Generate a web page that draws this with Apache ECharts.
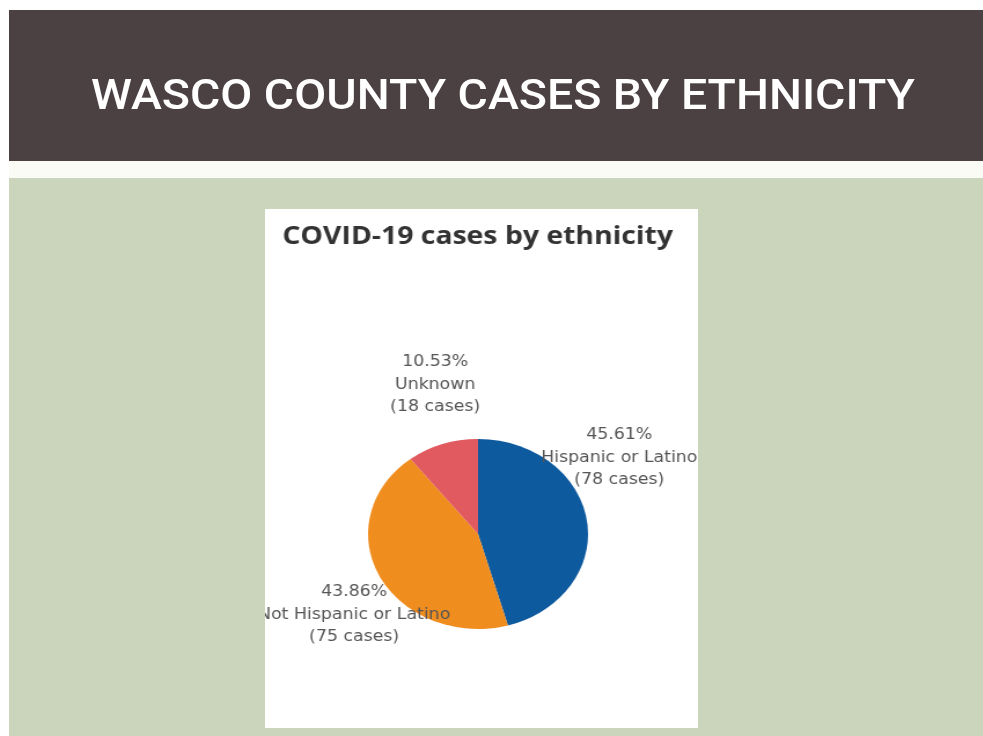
<!DOCTYPE html>
<html>
<head>
<meta charset="utf-8">
<script src="https://cdn.jsdelivr.net/npm/echarts@6/dist/echarts.min.js"></script>
<style>
html,body{margin:0;padding:0;background:#ffffff;}
#main{position:absolute;left:0;top:0;width:983px;height:736px;}
#wrap{position:absolute;left:265px;top:209px;width:433px;height:519px;overflow:hidden;background:#fff;}
#pie{position:absolute;left:0;top:0;width:374px;height:519px;transform:scaleX(1.1578);transform-origin:0 0;}
</style>
</head>
<body>
<div id="main"></div>
<div id="wrap"><div id="pie"></div></div>
<script>
// Data
const slideTitle = 'WASCO COUNTY CASES BY ETHNICITY';
const chartTitle = 'COVID-19 cases by ethnicity';
const categories = ['Hispanic or Latino', 'Not Hispanic or Latino', 'Unknown'];
const cases = [78, 75, 18];
const colors = ['#0d5a9e', '#f08d1f', '#e15a60'];

// label anchor positions (pixels inside the pie chart area)
const labelPos = [[306, 249], [77, 406], [147, 176]];

// Slide background
const main = echarts.init(document.getElementById('main'), null, {renderer: 'canvas'});
const headerFont = '500 43px Roboto';
const cvs = document.createElement('canvas').getContext('2d');
cvs.font = headerFont;
const tw = cvs.measureText(slideTitle).width;
const sx = 824 / tw;
main.setOption({
  backgroundColor: '#ffffff',
  graphic: [
    {type: 'rect', shape: {x: 9, y: 10, width: 974, height: 151}, style: {fill: '#4b4142'}},
    {type: 'rect', shape: {x: 9, y: 161, width: 974, height: 17}, style: {fill: '#fbfbf6'}},
    {type: 'rect', shape: {x: 9, y: 178, width: 974, height: 558}, style: {fill: '#cad5bc'}},
    {type: 'text', x: 503, y: 98, scaleX: sx, style: {text: slideTitle, font: headerFont, fill: '#ffffff', textAlign: 'center', textVerticalAlign: 'middle'}}
  ]
});

const pie = echarts.init(document.getElementById('pie'), null, {renderer: 'canvas'});
pie.setOption({
  backgroundColor: '#ffffff',
  animation: false,
  title: {
    text: chartTitle,
    left: 10,
    top: 11,
    textStyle: {fontFamily: 'Open Sans', fontWeight: 'bold', fontSize: 24.5, color: '#333333'}
  },
  series: [{
    type: 'pie',
    center: [184, 325],
    radius: [0, 95],
    startAngle: 90,
    clockwise: true,
    data: categories.map((c, i) => ({name: c, value: cases[i], itemStyle: {color: colors[i]}})),
    label: {
      show: true,
      position: 'outside',
      formatter: '{d}%\n{b}\n({c} cases)',
      fontFamily: 'DejaVu Sans',
      fontSize: 15,
      lineHeight: 22.5,
      color: '#555555',
      overflow: 'none',
      align: 'center'
    },
    labelLine: {show: false},
    labelLayout: function (p) {
      const pos = labelPos[p.dataIndex];
      return {x: pos[0], y: pos[1], align: 'center', verticalAlign: 'middle'};
    },
    emphasis: {disabled: true}
  }]
});
</script>
</body>
</html>
